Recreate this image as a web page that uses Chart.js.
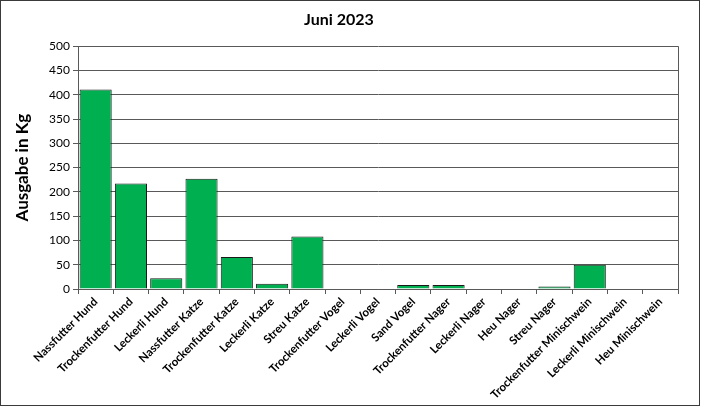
<!DOCTYPE html>
<html>
<head>
<meta charset="utf-8">
<script src="https://cdn.jsdelivr.net/npm/chart.js@4.4.0/dist/chart.umd.min.js"></script>
<style>
  html, body { margin: 0; padding: 0; background: #fff; }
  #wrap { width: 704px; height: 408px; position: relative; }
</style>
</head>
<body>
<div id="wrap"><canvas id="chart" width="704" height="408"></canvas></div>
<script>
// --- chart data ---
const categories = [
    'Nassfutter Hund', 'Trockenfutter Hund', 'Leckerli Hund',
    'Nassfutter Katze', 'Trockenfutter Katze', 'Leckerli Katze', 'Streu Katze',
    'Trockenfutter Vogel', 'Leckerli Vogel', 'Sand Vogel',
    'Trockenfutter Nager', 'Leckerli Nager', 'Heu Nager', 'Streu Nager',
    'Trockenfutter Minischwein', 'Leckerli Minischwein', 'Heu Minischwein'
];
const ausgabeKg = [411, 217, 22, 227, 66, 11, 108, 1, 1, 8, 8, 1, 0, 5, 50, 0, 0];
const yTicks = [0, 50, 100, 150, 200, 250, 300, 350, 400, 450, 500];

const fontFamily = 'Lato, "Open Sans", sans-serif';

// frame round the whole picture and right edge of the plot area
const framePlugin = {
    id: 'frame',
    afterDraw(chart) {
        const ctx = chart.ctx;
        const area = chart.chartArea;
        ctx.save();
        ctx.strokeStyle = '#595959';
        ctx.lineWidth = 1;
        ctx.beginPath();
        ctx.moveTo(Math.round(area.right) + 0.5, area.top);
        ctx.lineTo(Math.round(area.right) + 0.5, area.bottom + 5);
        ctx.stroke();
        ctx.strokeStyle = '#3a3a3a';
        ctx.strokeRect(0.5, 0.5, 699, 405);
        ctx.restore();
    }
};

new Chart(document.getElementById('chart'), {
    type: 'bar',
    data: {
        labels: categories,
        datasets: [{
            label: 'Ausgabe in Kg',
            data: ausgabeKg,
            backgroundColor: '#00b050',
            borderColor: '#1a1a1a',
            borderWidth: 1,
            barPercentage: 0.91,
            categoryPercentage: 1.0
        }]
    },
    options: {
        responsive: false,
        animation: false,
        layout: { padding: { left: 0, right: 26, top: 0, bottom: 0 } },
        plugins: {
            legend: { display: false },
            tooltip: { enabled: false },
            title: {
                display: true,
                text: 'Juni 2023',
                color: '#000',
                font: { family: fontFamily, size: 16, weight: 'bold' },
                padding: { top: 10, bottom: 17 }
            }
        },
        scales: {
            x: {
                grid: {
                    offset: true,
                    drawOnChartArea: false,
                    drawTicks: true,
                    tickLength: 5,
                    color: '#595959'
                },
                border: { color: '#595959' },
                ticks: {
                    autoSkip: false,
                    maxRotation: 45,
                    minRotation: 45,
                    color: '#000',
                    padding: 1,
                    font: { family: fontFamily, size: 11.5, weight: 'bold' }
                },
                afterFit(scale) { scale.height = 119; }
            },
            y: {
                min: 0,
                max: 500,
                afterBuildTicks(scale) {
                    scale.ticks = yTicks.map(v => ({ value: v }));
                },
                grid: {
                    color: '#595959',
                    tickLength: 5
                },
                border: { color: '#595959' },
                ticks: {
                    color: '#000',
                    padding: 3,
                    font: { family: fontFamily, size: 12 }
                },
                title: {
                    display: true,
                    text: 'Ausgabe in Kg',
                    color: '#000',
                    font: { family: fontFamily, size: 17, weight: 'bold' },
                    padding: { top: 12, bottom: 0 }
                },
                afterFit(scale) { scale.width = 78; }
            }
        }
    },
    plugins: [framePlugin]
});
</script>
</body>
</html>
